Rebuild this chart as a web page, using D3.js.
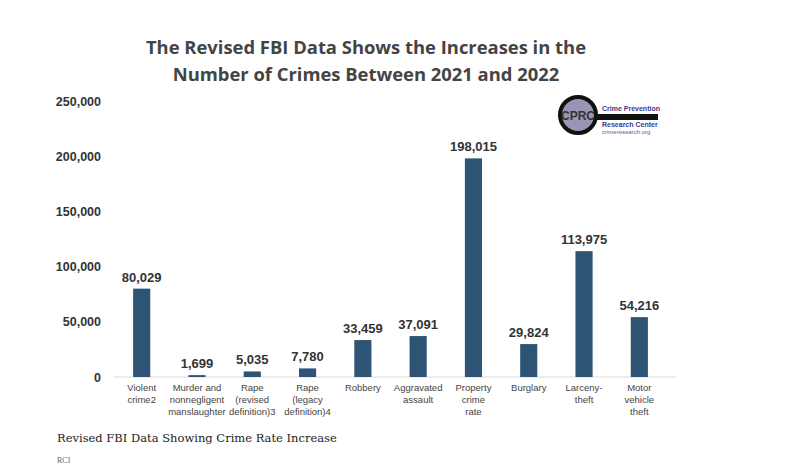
<!DOCTYPE html>
<html><head><meta charset="utf-8">
<script src="https://cdn.jsdelivr.net/npm/d3@7"></script>
<style>body{margin:0;background:#fff}</style></head>
<body><div id="chart"></div>
<script>
var categories = [["Violent","crime2"],["Murder and","nonnegligent","manslaughter"],["Rape","(revised","definition)3"],["Rape","(legacy","definition)4"],["Robbery"],["Aggravated","assault"],["Property","crime","rate"],["Burglary"],["Larceny-","theft"],["Motor","vehicle","theft"]];
var values = [80029, 1699, 5035, 7780, 33459, 37091, 198015, 29824, 113975, 54216];
var yTicks = [0, 50000, 100000, 150000, 200000, 250000];

var svg = d3.select("#chart").append("svg").attr("width", 790).attr("height", 470);
var font = "'Liberation Sans', Arial, sans-serif";

var x = d3.scaleBand().domain(d3.range(values.length)).range([114.3, 666.7]).paddingInner(0.69).paddingOuter(0.34);
var y = d3.scaleLinear().domain([0, 250000]).range([377, 101]);

svg.append("line").attr("x1", 114).attr("x2", 676).attr("y1", y(0)).attr("y2", y(0))
  .attr("stroke", "#d9d9d9").attr("stroke-width", 1);

var yAxis = svg.append("g").attr("transform", "translate(101,0)")
  .call(d3.axisLeft(y).tickValues(yTicks).tickSize(0).tickPadding(0).tickFormat(d3.format(",")));
yAxis.select(".domain").remove();
yAxis.selectAll("text").attr("font-family", font).attr("font-size", 12.5).attr("font-weight", "bold").attr("fill", "#333");

svg.selectAll(".bar").data(values).enter().append("rect")
  .attr("x", function(d, i){ return x(i); }).attr("width", x.bandwidth())
  .attr("y", function(d){ return y(d); }).attr("height", function(d){ return y(0) - y(d); })
  .attr("fill", "#2e5475");

svg.selectAll(".lab").data(values).enter().append("text")
  .attr("x", function(d, i){ return x(i) + x.bandwidth() / 2; })
  .attr("y", function(d){ return y(d) - 7; })
  .attr("text-anchor", "middle").attr("font-family", font).attr("font-size", 13)
  .attr("font-weight", "bold").attr("fill", "#333")
  .text(function(d){ return d3.format(",")(d); });

categories.forEach(function(lines, i){
  var t = svg.append("text").attr("text-anchor", "middle").attr("font-family", font)
    .attr("font-size", 9.5).attr("fill", "#444");
  lines.forEach(function(s, j){
    t.append("tspan").attr("x", x(i) + x.bandwidth() / 2).attr("y", 391 + j * 12).text(s);
  });
});

var title = svg.append("text").attr("text-anchor", "middle").attr("font-family", "'Open Sans', sans-serif")
  .attr("font-size", 18.4).attr("font-weight", "bold").attr("fill", "#444");
title.append("tspan").attr("x", 366).attr("y", 54).text("The Revised FBI Data Shows the Increases in the");
title.append("tspan").attr("x", 366).attr("y", 81).text("Number of Crimes Between 2021 and 2022");

// logo
var logo = svg.append("g");
logo.append("line").attr("x1", 590).attr("x2", 658).attr("y1", 117).attr("y2", 117).attr("stroke", "#111").attr("stroke-width", 6);
logo.append("circle").attr("cx", 578).attr("cy", 115).attr("r", 18).attr("fill", "#9a95b5").attr("stroke", "#111").attr("stroke-width", 4);
logo.append("text").attr("x", 578).attr("y", 120).attr("text-anchor", "middle").attr("font-family", font)
  .attr("font-size", 12).attr("font-weight", "bold").attr("fill", "#333").text("CPRC");
logo.append("text").attr("x", 602).attr("y", 111).attr("font-family", font).attr("font-size", 7).attr("font-weight", "bold").attr("fill", "#3a3a8a").text("Crime Prevention");
logo.append("text").attr("x", 602).attr("y", 127).attr("font-family", font).attr("font-size", 7).attr("font-weight", "bold").attr("fill", "#3a3a8a").text("Research Center");
logo.append("text").attr("x", 602).attr("y", 134).attr("font-family", font).attr("font-size", 6).attr("fill", "#5a5aa0").text("crimeresearch.org");

svg.append("text").attr("x", 57).attr("y", 442).attr("font-family", "'DejaVu Serif', 'Liberation Serif', serif")
  .attr("font-size", 11.5).attr("fill", "#222").text("Revised FBI Data Showing Crime Rate Increase");
svg.append("text").attr("x", 57).attr("y", 463).attr("font-family", "'Liberation Serif', serif")
  .attr("font-size", 8).attr("fill", "#666").text("RCI");
</script></body></html>
